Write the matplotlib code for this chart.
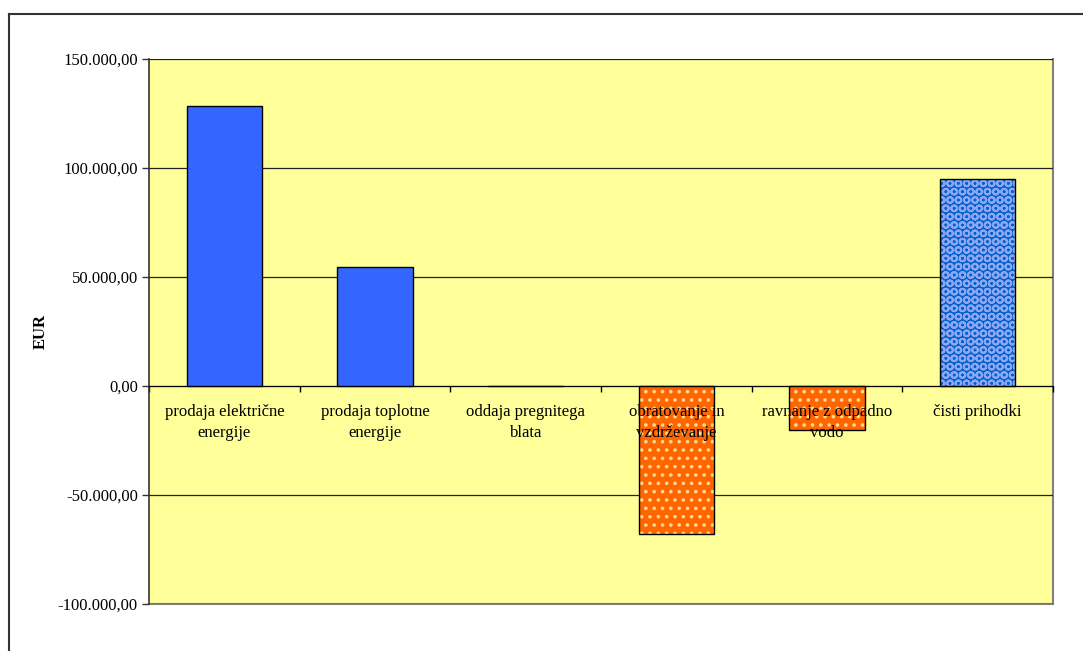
import numpy as np
import matplotlib.pyplot as plt
from matplotlib.lines import Line2D

# Prihodki in stroški (EUR)
kategorije = ["prodaja električne\nenergije", "prodaja toplotne\nenergije",
              "oddaja pregnitega\nblata", "obratovanje in\nvzdrževanje",
              "ravnanje z odpadno\nvodo", "čisti prihodki"]
vrednosti = [128500, 54500, 0, -68000, -20000, 95000]
# tip stolpca: prihodek, strošek ali rezultat
tipi = ["prihodek", "prihodek", "prihodek", "strosek", "strosek", "rezultat"]
y_oznake = [-100000, -50000, 0, 50000, 100000, 150000]

plt.rcParams['font.family'] = ['Liberation Serif', 'DejaVu Serif']
plt.rcParams['hatch.linewidth'] = 1.4


def eur(v):
    # 150000 -> 150.000,00
    s = "{:,.2f}".format(abs(v)).replace(",", "X").replace(".", ",").replace("X", ".")
    return ("-" if v < 0 else "") + s


fig = plt.figure(figsize=(10.83, 6.51), dpi=100)
ax = fig.add_axes([0.1376, 0.0722, 0.8347, 0.8372])
ax.set_facecolor('#FFFF99')

x = np.arange(len(kategorije))
sirina = 0.5
for xi, v, t in zip(x, vrednosti, tipi):
    if t == "prihodek":
        ax.bar(xi, v, sirina, color='#3366FF', edgecolor='black', linewidth=1, zorder=3)
    elif t == "strosek":
        ax.bar(xi, v, sirina, color='#FF6600', edgecolor='#FFD890', hatch='..',
               linewidth=0, zorder=3)
        ax.bar(xi, v, sirina, color='none', edgecolor='black', linewidth=1, zorder=4)
    else:
        ax.bar(xi, v, sirina, color='#0060CC', edgecolor='#8CA6F2', hatch='OO',
               linewidth=0, zorder=3)
        ax.bar(xi, v, sirina, color='none', edgecolor='black', linewidth=1, zorder=4)

ax.set_xlim(-0.5, len(kategorije) - 0.5)
ax.set_ylim(-100000, 150000)
ax.set_yticks(y_oznake)
ax.set_yticklabels([eur(v) for v in y_oznake], fontsize=12)
ax.tick_params(axis='y', direction='out', length=5, width=1, color='#333333', pad=3)
ax.grid(axis='y', color='#222222', linewidth=0.9, zorder=1)
ax.set_axisbelow(True)

# os x na ničli, oznake med kategorijami
ax.spines['bottom'].set_position(('data', 0))
ax.spines['bottom'].set_color('black')
ax.spines['bottom'].set_zorder(5)
ax.set_xticks(np.arange(len(kategorije) + 1) - 0.5)
ax.set_xticklabels([])
ax.tick_params(axis='x', direction='out', length=4, width=1, color='black')
ax.spines['top'].set_visible(False)
ax.spines['right'].set_visible(False)
ax.spines['left'].set_color('#333333')
ax.spines['left'].set_linewidth(1.2)

# siv okvir risalne površine
for xs, ys in (([1, 1], [0, 1]), ([0, 1], [0, 0])):
    ax.add_line(Line2D(xs, ys, transform=ax.transAxes, color='#808080',
                       linewidth=1.5, clip_on=False, zorder=0))

for xi, k in zip(x, kategorije):
    ax.annotate(k, (xi, 0), xytext=(0, -13), textcoords='offset points',
                ha='center', va='top', fontsize=12, zorder=6, linespacing=1.45)

ax.set_ylabel('EUR', fontsize=12, fontweight='bold')
ax.yaxis.set_label_coords(-0.111, 0.5)

# okvir slike (levo in zgoraj)
fig.add_artist(Line2D([9 / 1083, 9 / 1083], [0, 1 - 14 / 651], transform=fig.transFigure,
                      color='#333333', linewidth=1.5))
fig.add_artist(Line2D([9 / 1083, 1], [1 - 14 / 651, 1 - 14 / 651], transform=fig.transFigure,
                      color='#333333', linewidth=1.5))

fig.savefig('out.png', dpi=100)
